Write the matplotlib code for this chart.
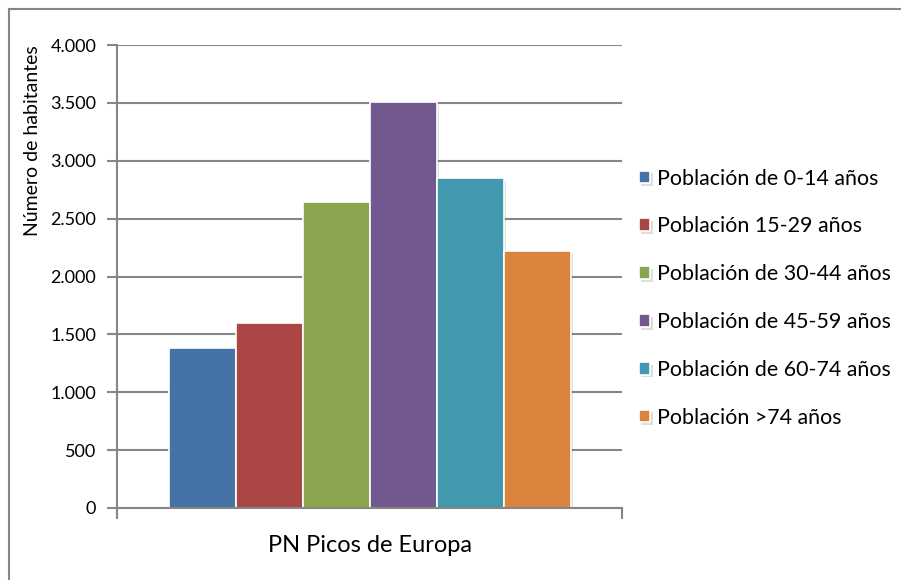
import matplotlib.pyplot as plt
from matplotlib.patches import Rectangle
import matplotlib.patheffects as pe

plt.rcParams['font.family'] = ['Lato', 'DejaVu Sans']

category = "PN Picos de Europa"
series = ["Población de 0-14 años", "Población 15-29 años", "Población de 30-44 años",
          "Población de 45-59 años", "Población de 60-74 años", "Población >74 años"]
values = [1380, 1600, 2640, 3505, 2850, 2220]
colors = ["#4572A7", "#AA4643", "#89A54E", "#71588F", "#4198AF", "#DB843D"]
yticks = [0, 500, 1000, 1500, 2000, 2500, 3000, 3500, 4000]
ytick_labels = ["0", "500", "1.000", "1.500", "2.000", "2.500", "3.000", "3.500", "4.000"]

W, H = 901, 580
fig = plt.figure(figsize=(W / 100, H / 100), dpi=100)
ax = fig.add_axes([117 / W, 1 - 508 / H, (622 - 117) / W, (508 - 45) / H])

# outer chart frame (only left/top visible in the crop)
fig.patches.append(Rectangle((9 / W, -0.1), 1.2, 1 - 9 / H + 0.1, transform=fig.transFigure,
                             fill=False, edgecolor="#868686", linewidth=1.5))

gray = "#868686"
ax.set_ylim(0, 4000)
ax.set_xlim(-0.5, 0.5)
ax.set_yticks(yticks)
ax.set_yticklabels(ytick_labels, fontsize=13)
ax.yaxis.grid(True, color=gray, linewidth=1.5)
ax.set_axisbelow(True)

bw = 67 / 505
n = len(values)
for i, (lab, v, c) in enumerate(zip(series, values, colors)):
    x = (i - (n - 1) / 2) * bw
    ax.bar(x, v, width=bw, color=c, edgecolor="white", linewidth=1.2, label=lab,
           path_effects=[pe.SimplePatchShadow(offset=(2, -2), alpha=0.15), pe.Normal()])

for s in ["top", "right"]:
    ax.spines[s].set_visible(False)
ax.spines["left"].set_color(gray)
ax.spines["left"].set_linewidth(1.5)
ax.spines["bottom"].set_color(gray)
ax.spines["bottom"].set_linewidth(1.5)
ax.tick_params(axis="y", length=7, width=1.5, color=gray, pad=8)
ax.set_xticks([-0.5, 0.5])
ax.set_xticklabels(["", ""])
ax.tick_params(axis="x", length=8, width=1.5, color=gray, direction="out")
ax.text(0.5, -0.082, category, transform=ax.transAxes, ha="center", va="center", fontsize=17)

fig.text(33 / W, 1 - 141 / H, "Número de habitantes", rotation=90, ha="center", va="center",
         fontsize=14)

leg = ax.legend(loc="upper left", bbox_to_anchor=(630 / W, 1 - 160 / H), bbox_transform=fig.transFigure,
                frameon=False, fontsize=15.4, handlelength=0.55, handleheight=0.55,
                handletextpad=0.3, labelspacing=1.3, borderaxespad=0)

fig.savefig("out.png", dpi=100)
